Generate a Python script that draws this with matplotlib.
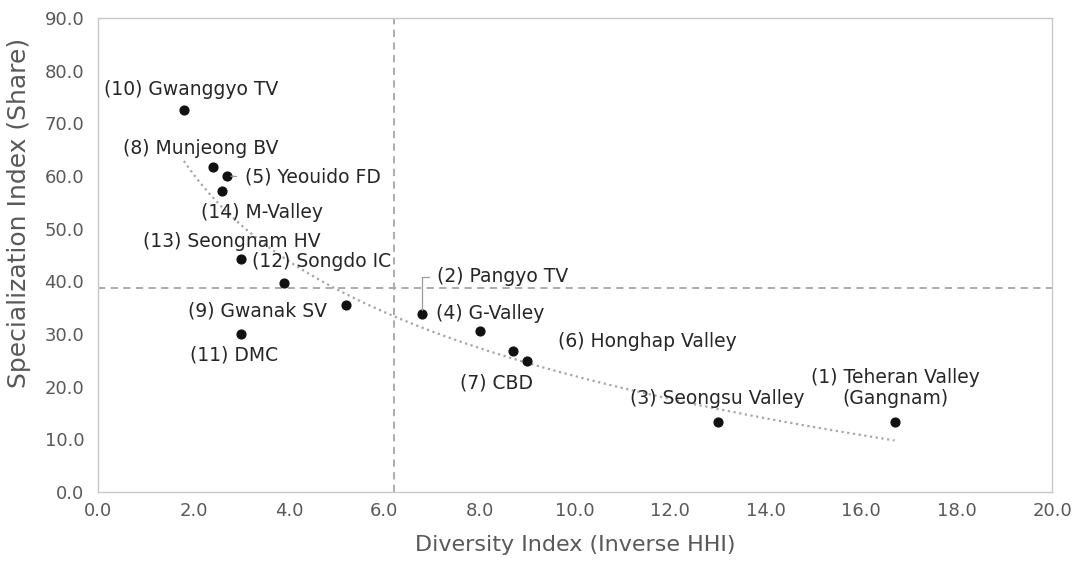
import numpy as np
import matplotlib.pyplot as plt

# cluster data
names = ['(1) Teheran Valley\n(Gangnam)', '(2) Pangyo TV', '(3) Seongsu Valley', '(4) G-Valley',
         '(5) Yeouido FD', '(6) Honghap Valley', '(7) CBD', '(8) Munjeong BV',
         '(9) Gwanak SV', '(10) Gwanggyo TV', '(11) DMC', '(12) Songdo IC',
         '(13) Seongnam HV', '(14) M-Valley']
diversity = [16.7, 6.8, 13.0, 8.0, 2.7, 8.7, 9.0, 2.4, 5.2, 1.8, 3.0, 3.9, 3.0, 2.6]
special = [13.3, 33.8, 13.3, 30.5, 60.0, 26.8, 24.9, 61.7, 35.5, 72.5, 30.0, 39.7, 44.2, 57.1]

# averages (dashed reference lines)
mean_div = 6.2
mean_spec = 38.8

# label offsets in pixels (dx to left edge, dy to text centre)
offsets = [(1, 34), (15, 37), (-88, 23), (-44, 18), (18, -1), (45, 9), (-67, -22),
           (-90, 19), (-158, -6), (-80, 21), (-51, -21), (-32, 21), (-98, 18), (-21, -21)]

grey = '#595959'
plt.rcParams['font.family'] = 'DejaVu Sans'

fig = plt.figure(figsize=(10.82, 5.62), dpi=100)
ax = fig.add_axes([0.0906, 0.1246, 0.8817, 0.8434])

ax.set_xlim(0, 20)
ax.set_ylim(0, 90)
ax.set_xticks(np.arange(0, 21, 2))
ax.set_yticks(np.arange(0, 91, 10))
ax.xaxis.set_major_formatter('{x:.1f}')
ax.yaxis.set_major_formatter('{x:.1f}')
ax.tick_params(length=0, labelsize=13, colors=grey)
ax.tick_params(axis='y', pad=10)
ax.tick_params(axis='x', pad=7)
for s in ax.spines.values():
    s.set_color('#c8c8c8')
    s.set_linewidth(1)

# mean lines
ax.axvline(mean_div, color='#a6a6a6', lw=1.3, ls=(0, (4, 3)), zorder=1)
ax.axhline(mean_spec, color='#a6a6a6', lw=1.3, ls=(0, (4, 3)), zorder=1)

# logarithmic trend line
x = np.array(diversity)
y = np.array(special)
b, a = np.polyfit(np.log(x), y, 1)
xs = np.linspace(x.min(), x.max(), 200)
ax.plot(xs, a + b * np.log(xs), color='#a6a6a6', lw=1.6, ls=(0, (1, 1.6)), zorder=2)

ax.scatter(x, y, s=40, color='#111111', zorder=3)

for i, (name, (dx, dy)) in enumerate(zip(names, offsets)):
    ha = 'center' if i == 0 else 'left'
    kw = {}
    if i in (1, 4):
        # leader lines for the two crowded labels
        conn = 'angle,angleA=0,angleB=90,rad=0' if i == 1 else 'arc3'
        kw['arrowprops'] = dict(arrowstyle='-', color='#9a9a9a', lw=0.9,
                                connectionstyle=conn, relpos=(0, 0.5),
                                shrinkA=4, shrinkB=3)
    ax.annotate(name, (x[i], y[i]), xytext=(dx * 0.72, dy * 0.72),
                textcoords='offset points', ha=ha, va='center',
                fontsize=13.5, color='#262626', linespacing=1.15, **kw)

ax.set_xlabel('Diversity Index (Inverse HHI)', fontsize=16, color=grey)
ax.set_ylabel('Specialization Index (Share)', fontsize=18, color=grey)
ax.xaxis.set_label_coords(0.5, -0.09)
ax.yaxis.set_label_coords(-0.07, 0.589)

fig.savefig('out.png', dpi=100)
